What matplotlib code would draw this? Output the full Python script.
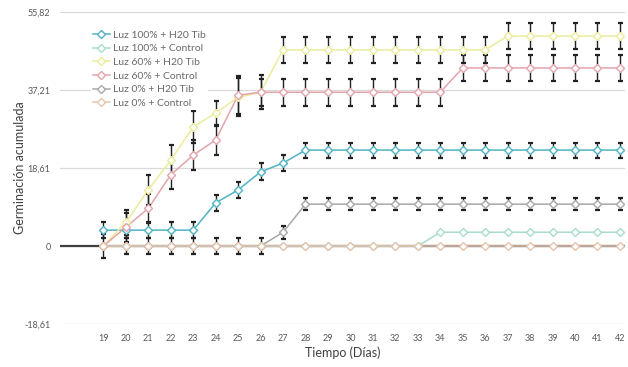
import numpy as np
import matplotlib.pyplot as plt

# dias de observacion (17 y 18 sin etiqueta)
dias = list(range(19, 43))
etiquetas_x = [str(d) for d in dias]

# germinacion acumulada por tratamiento
luz100_h2o = [3.8, 3.8, 3.8, 3.8, 3.8, 10.3, 13.4, 17.7, 19.8] + [22.9] * 15
luz100_ctrl = [0] * 15 + [3.3] * 9
luz60_h2o = [0, 5.7, 13.4, 20.5, 28.4, 31.7, 35.5, 36.7] + [46.8] * 10 + [50.1] * 6
luz60_ctrl = [0, 4.5, 9.0, 17.0, 21.7, 25.3, 36.0] + [36.7] * 9 + [42.5] * 8
luz0_h2o = [0] * 8 + [3.3] + [10.0] * 15
luz0_ctrl = [0] * 24

# error estandar
err100_h2o = [1.9] * 5 + [2.0] * 4 + [1.8] * 15
err100_ctrl = [0] * 24
err60_h2o = [0, 3.0, 3.5, 3.5, 3.8, 3.0, 4.5, 4.0] + [3.2] * 16
err60_ctrl = [0, 3.5, 3.5, 3.5, 3.5, 3.5, 4.5] + [3.2] * 17
err0_h2o = [0] * 8 + [1.5] + [1.4] * 15
err0_ctrl = [2.8] + [2.0] * 7 + [0] * 16

series = [
    ('Luz 100% + H20 Tib', luz100_h2o, err100_h2o, '#4fb3c4'),
    ('Luz 100% + Control', luz100_ctrl, err100_ctrl, '#a8dccb'),
    ('Luz 60% + H20 Tib', luz60_h2o, err60_h2o, '#ecec9c'),
    ('Luz 60% + Control', luz60_ctrl, err60_ctrl, '#e4a4ac'),
    ('Luz 0% + H20 Tib', luz0_h2o, err0_h2o, '#a8a8a8'),
    ('Luz 0% + Control', luz0_ctrl, err0_ctrl, '#e6c4ac'),
]

yticks = [-18.61, 0, 18.61, 37.21, 55.82]
ytick_labels = ['-18,61', '0', '18,61', '37,21', '55,82']

plt.rcParams['font.family'] = ['Lato', 'DejaVu Sans']
fig = plt.figure(figsize=(6.28, 3.67), dpi=100)
ax = fig.add_axes([0.096, 0.117, 0.9, 0.85])

for y in yticks:
    ax.axhline(y, color='#d9d9d9', lw=0.9, zorder=0)
ax.axhline(0, color='#404040', lw=1.6, zorder=1)

x = np.array(dias)
for nombre, vals, err, color in series:
    vals = np.array(vals)
    err = np.array(err)
    ax.plot(x, vals, color=color, lw=1.1, zorder=2)
    ax.errorbar(x, vals, yerr=np.where(err > 0, err, np.nan), fmt='none',
                ecolor='#222222', elinewidth=1.0, capsize=1.8, capthick=1.6, zorder=3)
    ax.plot(x, vals, ls='none', marker='D', ms=4, mfc='white', mec=color,
            mew=1.0, zorder=4)

# entradas de leyenda
handles = [plt.Line2D([], [], color=c, lw=1.1, marker='D', ms=4, mfc='white', mec=c)
           for _, _, _, c in series]
ax.legend(handles, [s[0] for s in series], loc='upper left', bbox_to_anchor=(0.045, 0.965),
          frameon=True, facecolor='white', edgecolor='none', framealpha=1,
          fontsize=7.5, labelcolor='#6a6a6a', handlelength=1.6, handletextpad=0.3,
          labelspacing=0.42, borderpad=0.2)

ax.set_xlim(17.08, 42.25)
ax.set_ylim(-18.61, 55.82)
ax.set_xticks(dias)
ax.set_xticklabels(etiquetas_x)
ax.set_yticks(yticks)
ax.set_yticklabels(ytick_labels)
ax.tick_params(length=0, labelsize=6.5, labelcolor='#595959', pad=7)
for s in ax.spines.values():
    s.set_visible(False)

ax.set_xlabel('Tiempo (Días)', fontsize=9, color='#404040', labelpad=3)
ax.set_ylabel('Germinación acumulada', fontsize=9, color='#404040')
ax.yaxis.set_label_coords(-0.06, 0.5)

plt.savefig('out.png', dpi=100)
